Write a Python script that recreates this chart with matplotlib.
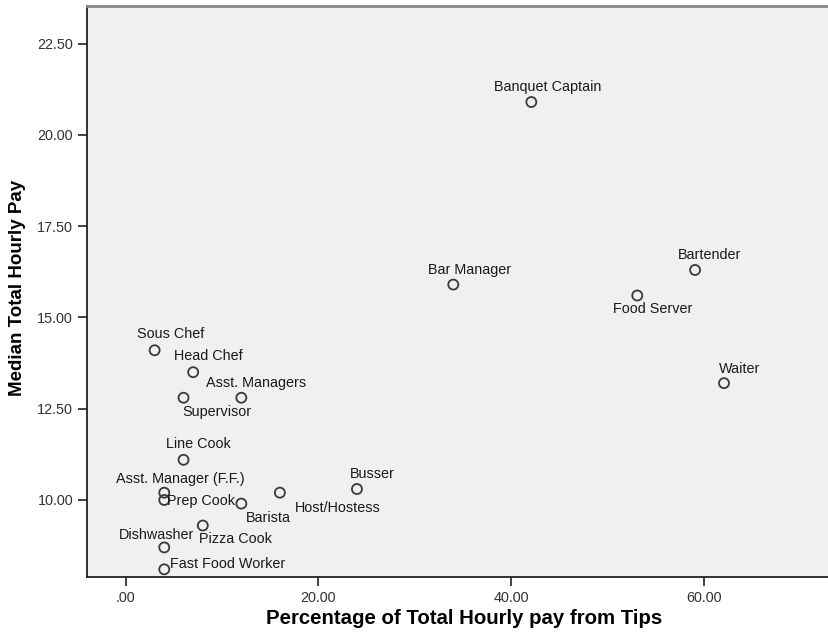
import matplotlib
matplotlib.use("Agg")
import matplotlib.pyplot as plt

# job titles and their values
jobs = ["Banquet Captain", "Bar Manager", "Bartender", "Food Server", "Waiter",
        "Sous Chef", "Head Chef", "Asst. Managers", "Supervisor", "Line Cook",
        "Asst. Manager (F.F.)", "Prep Cook", "Barista", "Host/Hostess", "Busser",
        "Pizza Cook", "Dishwasher", "Fast Food Worker"]
tips_pct = [42.1, 34.0, 59.1, 53.1, 62.1,
            3.0, 7.0, 12.0, 6.0, 6.0,
            4.0, 4.0, 12.0, 16.0, 24.0,
            8.0, 4.0, 4.0]
median_pay = [20.9, 15.9, 16.3, 15.6, 13.2,
              14.1, 13.5, 12.8, 12.8, 11.1,
              10.2, 10.0, 9.9, 10.2, 10.3,
              9.3, 8.7, 8.1]

x_ticks = [0, 20, 40, 60]
x_ticklabels = [".00", "20.00", "40.00", "60.00"]
y_ticks = [10, 12.5, 15, 17.5, 20, 22.5]
y_ticklabels = ["10.00", "12.50", "15.00", "17.50", "20.00", "22.50"]

# label offsets in pixels (dx, dy), per point
offsets = {
    "Banquet Captain": (16, 15.5), "Bar Manager": (16, 15), "Bartender": (14, 15),
    "Food Server": (15.5, -13), "Waiter": (16, 14), "Sous Chef": (16, 16),
    "Head Chef": (15, 16), "Asst. Managers": (15, 15), "Supervisor": (33, -14),
    "Line Cook": (15, 16), "Asst. Manager (F.F.)": (16.5, 13.4), "Prep Cook": (37, -1),
    "Barista": (26.6, -14), "Host/Hostess": (58, -15), "Busser": (15, 15),
    "Pizza Cook": (33, -13.3), "Dishwasher": (-8, 12.7), "Fast Food Worker": (63, 5),
}

plt.rcParams['font.family'] = ['Liberation Sans', 'DejaVu Sans']

fig = plt.figure(figsize=(8.29, 6.39), dpi=100)
ax = fig.add_axes([87/829, 1 - 577/639, 1 - 87/829, (577 - 6)/639])
ax.set_facecolor("#f0f0f0")

ax.scatter(tips_pct, median_pay, s=52, facecolors="none", edgecolors="#3a3a3a",
           linewidths=1.3, zorder=3)
for name, xv, yv in zip(jobs, tips_pct, median_pay):
    dx, dy = offsets[name]
    ax.annotate(name, (xv, yv), xytext=(dx, dy), textcoords="offset pixels",
                ha="center", va="center", fontsize=10.4, color="#1a1a1a")

ax.set_xlim(-4.02, 73.0)
ax.set_ylim(7.89, 23.53)
ax.set_xticks(x_ticks)
ax.set_xticklabels(x_ticklabels)
ax.set_yticks(y_ticks)
ax.set_yticklabels(y_ticklabels)
ax.tick_params(axis="both", labelsize=10.4, labelcolor="#333333", color="#222222",
               length=6.5, width=1.2)

ax.spines["right"].set_visible(False)
ax.spines["top"].set_color("#888888")
ax.spines["top"].set_linewidth(2)
ax.spines["left"].set_color("#222222")
ax.spines["bottom"].set_color("#222222")
ax.spines["left"].set_linewidth(1.3)
ax.spines["bottom"].set_linewidth(1.3)

ax.set_xlabel("Percentage of Total Hourly pay from Tips", fontsize=14.7, fontweight="bold")
ax.set_ylabel("Median Total Hourly Pay", fontsize=13.5, fontweight="bold")
ax.xaxis.set_label_coords((464 - 87)/742, -(609 - 577)/571)
ax.yaxis.set_label_coords(-(87 - 26)/742, (577 - 287.5)/571)

fig.savefig("out.png", dpi=100)
